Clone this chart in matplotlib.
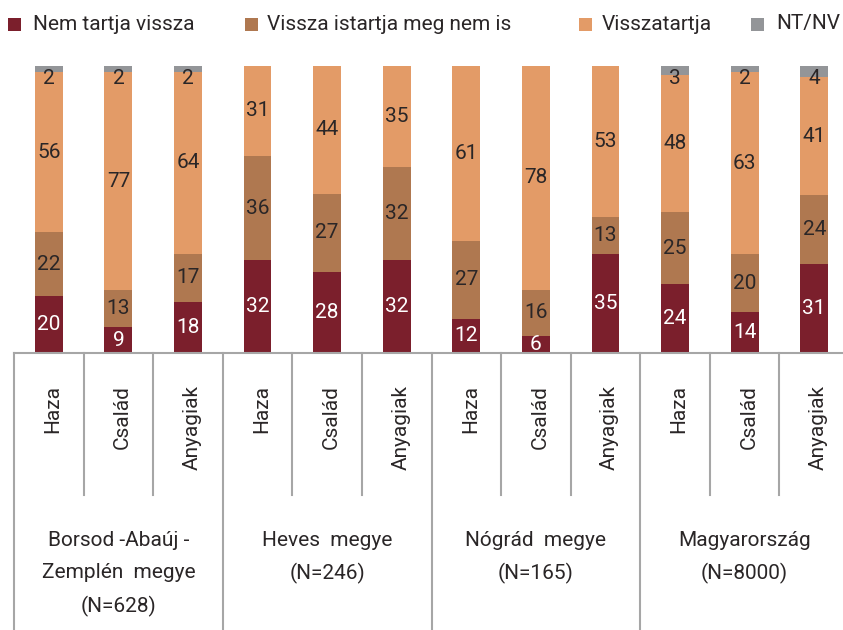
import matplotlib
matplotlib.use('Agg')
import matplotlib.pyplot as plt
import numpy as np
from matplotlib.patches import Rectangle

plt.rcParams['font.family'] = ['Roboto', 'DejaVu Sans']

# adatok
categories = ['Haza', 'Család', 'Anyagiak'] * 4
groups = [
    ['Borsod -Abaúj -', 'Zemplén  megye', '(N=628)'],
    ['Heves  megye', '(N=246)'],
    ['Nógrád  megye', '(N=165)'],
    ['Magyarország', '(N=8000)'],
]
series = ['Nem tartja vissza', 'Vissza istartja meg nem is', 'Visszatartja', 'NT/NV']
nem_tartja = [20, 9, 18, 32, 28, 32, 12, 6, 35, 24, 14, 31]
vissza_is = [22, 13, 17, 36, 27, 32, 27, 16, 13, 25, 20, 24]
visszatartja = [56, 77, 64, 31, 44, 35, 61, 78, 53, 48, 63, 41]
nt_nv = [2, 2, 2, 0, 0, 0, 0, 0, 0, 3, 2, 4]

colors = ['#7B1F2C', '#AF7850', '#E39B67', '#939598']
text_dark = '#2A2627'
line_gray = '#A6A6A6'
FS = 15

W, H = 843, 630
fig = plt.figure(figsize=(W / 100, H / 100), dpi=100)

# rajzterület: 12 kategória, 69.6 px egyenként, 100% = 287 px
ax = fig.add_axes([14 / W, (H - 353) / H, (849 - 14) / W, (353 - 66) / H])
ax.set_xlim(-0.5, 11.5)
ax.set_ylim(0, 100)
ax.axis('off')


def py(y_px):
    # képpont -> adat y (a tengely alatt negatív)
    return (353 - y_px) / 2.87


vals = np.array([nem_tartja, vissza_is, visszatartja, nt_nv], dtype=float)
pct = vals / vals.sum(axis=0) * 100
x = np.arange(len(categories))
bottom = np.zeros(len(categories))

for k, name in enumerate(series):
    ax.bar(x, pct[k], bottom=bottom, width=0.4, color=colors[k], linewidth=0)
    for i in range(len(x)):
        if vals[k, i] <= 0:
            continue
        y = bottom[i] + pct[k, i] / 2
        if k == 3:
            y = min(y, 95.7)
        ax.text(x[i], y, f'{int(vals[k, i])}', ha='center', va='center',
                fontsize=FS, color='white' if k == 0 else text_dark)
    bottom += pct[k]

# kategória-tengely táblázat
ax.plot([-0.5, 11.6], [0, 0], color=line_gray, lw=1.5, clip_on=False)
for b in range(13):
    xb = -0.5 + b
    end = py(630) if b % 3 == 0 else py(495)
    ax.plot([xb, xb], [0, end], color=line_gray, lw=1.5, clip_on=False)

for i, cat in enumerate(categories):
    ax.text(i + 0.06, py(385), cat, rotation=90, ha='center', va='top',
            fontsize=FS, color=text_dark, clip_on=False)

line_y = [540, 573, 606]
for g, lines in enumerate(groups):
    for j, line in enumerate(lines):
        ax.text(3 * g + 1, py(line_y[j]), line, ha='center', va='center',
                fontsize=FS, color=text_dark, clip_on=False)

# jelmagyarázat
leg_box_x = [8, 245, 579, 751]
leg_text_x = [33, 267, 602, 776]
for k, name in enumerate(series):
    fig.add_artist(Rectangle((leg_box_x[k] / W, (H - 31) / H), 13 / W, 13 / H,
                             transform=fig.transFigure, color=colors[k], lw=0))
    fig.text(leg_text_x[k] / W, (H - 24) / H, name, ha='left', va='center',
             fontsize=FS, color=text_dark)

fig.savefig('out.png', dpi=100)
